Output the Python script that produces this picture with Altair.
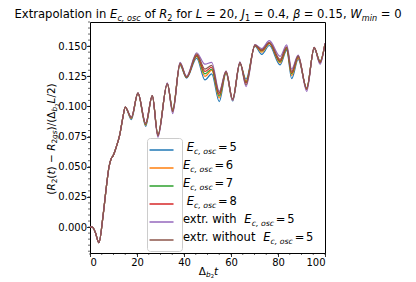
import altair as alt
import pandas as pd

# ---------------- data ----------------
t_vals = [0, 1.0, 2.2, 3.8, 5.5, 7.0, 8.1, 9.1, 9.8, 11.2, 12.6, 14.0, 15.0,
          17.6, 20.4, 23.7, 26.5, 28.9, 32.9, 35.2, 38.3, 41.1, 45.4, 48.9,
          51.8, 55.0, 57.9, 60.7, 63.8, 66.4, 70.2, 73.1, 76.3, 80.9, 83.7,
          85.8, 88.6, 92.2, 95.4, 97.9, 100.0]

early = [0.0, 0.0, -0.004, -0.013, 0.0085, 0.034, 0.050, 0.057, 0.059,
         0.0665, 0.076, 0.091, 0.0995]

e5 = early + [0.0890, 0.1110, 0.0835, 0.1090, 0.0765, 0.1190, 0.0975, 0.1340,
              0.1235, 0.1400, 0.1220, 0.1270, 0.1040, 0.1275, 0.1045, 0.1355,
              0.1225, 0.1500, 0.1432, 0.1505, 0.1345, 0.1465, 0.1230, 0.1390,
              0.1155, 0.1480, 0.1378, 0.1515]
e6 = early + [0.0898, 0.1110, 0.0845, 0.1090, 0.0763, 0.1190, 0.0970, 0.1348,
              0.1240, 0.1415, 0.1250, 0.1300, 0.1070, 0.1280, 0.1050, 0.1360,
              0.1210, 0.1505, 0.1450, 0.1520, 0.1360, 0.1475, 0.1255, 0.1400,
              0.1150, 0.1485, 0.1372, 0.1520]
e7 = early + [0.0903, 0.1110, 0.0850, 0.1090, 0.0760, 0.1190, 0.0965, 0.1352,
              0.1240, 0.1420, 0.1270, 0.1310, 0.1085, 0.1285, 0.1055, 0.1360,
              0.1200, 0.1505, 0.1460, 0.1522, 0.1370, 0.1480, 0.1270, 0.1410,
              0.1148, 0.1485, 0.1368, 0.1520]
e8 = early + [0.0906, 0.1110, 0.0855, 0.1090, 0.0758, 0.1190, 0.0960, 0.1355,
              0.1242, 0.1425, 0.1290, 0.1325, 0.1100, 0.1290, 0.1058, 0.1362,
              0.1195, 0.1507, 0.1465, 0.1527, 0.1380, 0.1490, 0.1280, 0.1415,
              0.1145, 0.1487, 0.1365, 0.1520]
ex_with = early + [0.0910, 0.1113, 0.0860, 0.1090, 0.0745, 0.1195, 0.0940, 0.1365,
                   0.1250, 0.1445, 0.1350, 0.1365, 0.1125, 0.1295, 0.1050, 0.1370,
                   0.1165, 0.1512, 0.1480, 0.1545, 0.1415, 0.1510, 0.1310, 0.1425,
                   0.1125, 0.1490, 0.1350, 0.1525]
ex_without = early + [0.0910, 0.1110, 0.0860, 0.1090, 0.0755, 0.1190, 0.0955, 0.1360,
                      0.1245, 0.1435, 0.1310, 0.1340, 0.1115, 0.1290, 0.1060, 0.1365,
                      0.1180, 0.1510, 0.1470, 0.1532, 0.1390, 0.1495, 0.1290, 0.1420,
                      0.1140, 0.1490, 0.1360, 0.1522]

series_names = ["E5", "E6", "E7", "E8", "extr. with", "extr. without"]
series_vals = [e5, e6, e7, e8, ex_with, ex_without]
series_colors = ["#1f77b4", "#ff7f0e", "#2ca02c", "#d62728", "#9467bd", "#8c564b"]

y_ticks = [0.0, 0.025, 0.05, 0.075, 0.1, 0.125, 0.15]
x_ticks = [0, 20, 40, 60, 80, 100]
y_minor = [round(-0.020 + 0.005 * i, 3) for i in range(39)]
x_minor = [5 * i for i in range(21)]

rows = []
for name, vals in zip(series_names, series_vals):
    for t, v in zip(t_vals, vals):
        rows.append({"t": t, "v": v, "series": name})
df = pd.DataFrame(rows)

# ---------------- layout ----------------
W_PLOT, H_PLOT = 235, 231
FONT = "DejaVu Sans"
xs = alt.Scale(domain=[0, 100], nice=False, zero=False)
ys = alt.Scale(domain=[-0.0215, 0.170], nice=False, zero=False)
x_axis = alt.Axis(values=x_ticks, format="d", title=None, grid=False, domain=False,
                  tickSize=3.5, tickWidth=0.8, tickColor="black", labelPadding=1,
                  labelFont=FONT, labelFontSize=10, labelColor="black")
y_axis = alt.Axis(values=y_ticks, format=".3f", title=None, grid=False, domain=False,
                  tickSize=3.5, tickWidth=0.8, tickColor="black", labelPadding=0,
                  labelFont=FONT, labelFontSize=10, labelColor="black")

blank = "'" + " " * 37 + "'"
lines = alt.Chart(df).mark_line(interpolate="monotone", strokeWidth=1.2, clip=True).encode(
    x=alt.X("t:Q", scale=xs, axis=x_axis),
    y=alt.Y("v:Q", scale=ys, axis=y_axis),
    color=alt.Color("series:N", sort=series_names,
                    scale=alt.Scale(domain=series_names, range=series_colors),
                    legend=alt.Legend(title=None, orient="none", legendX=57, legendY=116,
                                      symbolType="M-1.58,0H2.42", symbolSize=144,
                                      symbolStrokeWidth=1.5, labelExpr=blank,
                                      labelFontSize=12, labelLimit=300,
                                      rowPadding=5, padding=5, labelOffset=10,
                                      strokeColor="#cccccc", cornerRadius=3)),
    order=alt.Order("series_idx:Q"),
).transform_calculate(series_idx="indexof(%s, datum.series)" % str(series_names))

ymin = alt.Chart(pd.DataFrame({"v": y_minor})).mark_rule(color="black", strokeWidth=0.6).encode(
    y=alt.Y("v:Q", scale=ys, axis=y_axis), x=alt.value(0), x2=alt.value(-2))
xmin = alt.Chart(pd.DataFrame({"t": x_minor})).mark_rule(color="black", strokeWidth=0.6).encode(
    x=alt.X("t:Q", scale=xs, axis=x_axis), y=alt.value(H_PLOT), y2=alt.value(H_PLOT + 2))

# ---------------- rich text (math-like labels) ----------------
CW = {' ': 0.318, '(': 0.390, ')': 0.390, ',': 0.318, '.': 0.318, '/': 0.337, '=': 0.838,
      '−': 0.838, 'E': 0.632, 'J': 0.295, 'L': 0.557, 'R': 0.695, 'W': 0.989, 'Δ': 0.685,
      'β': 0.602, 'a': 0.613, 'b': 0.635, 'c': 0.550, 'e': 0.615, 'f': 0.352, 'g': 0.635,
      'h': 0.634, 'i': 0.278, 'l': 0.278, 'm': 0.974, 'n': 0.634, 'o': 0.612, 'p': 0.635,
      'r': 0.411, 's': 0.521, 't': 0.392, 'u': 0.634, 'w': 0.818, 'x': 0.592}
for d in "0123456789":
    CW[d] = 0.636
STY = {'n': (1.0, 0.0, 'normal'), 'i': (1.0, 0.0, 'italic'),
       's': (0.7, 0.22, 'normal'), 'si': (0.7, 0.22, 'italic'),
       'sl': (0.68, 0.22, 'italic'), 'ss': (0.5, 0.34, 'normal')}
ONE = alt.Data(values=[{"k": 0}])


def tw(s):
    return sum(CW.get(c, 0.6) for c in s)


def piece_w(t, s, size):
    if s == 'gap':
        return t * size
    return tw(t) * size * STY[s][0]


def rich(pieces, x, y, size, anchor="start", angle=0):
    total = sum(piece_w(t, s, size) for t, s in pieces)
    pos = -total / 2 if anchor == "middle" else 0.0
    out = []
    for t, s in pieces:
        if s == 'gap':
            pos += t * size
            continue
        f, drop, style = STY[s]
        fs = size * f
        lead = len(t) - len(t.lstrip(' '))
        core = t.strip(' ')
        off = pos + lead * CW[' '] * fs
        if core:
            if angle == 0:
                px, py = x + off, y + drop * size
            else:
                px, py = x + drop * size, y - off
            out.append(alt.Chart(ONE).mark_text(
                text=core, font=FONT, fontSize=fs, fontStyle=style, align="left",
                baseline="alphabetic", angle=angle, color="black").encode(
                x=alt.value(px), y=alt.value(py)))
        pos += tw(t) * fs
    return out


texts = []
texts += rich([("Extrapolation in ", 'n'), ("E", 'i'), ("c, osc", 'si'), (" of ", 'n'),
               ("R", 'i'), ("2", 's'), (" for ", 'n'), ("L", 'i'), (" = 20, ", 'n'),
               ("J", 'i'), ("1", 's'), (" = 0.4, ", 'n'), ("β", 'i'), (" = 0.15, ", 'n'),
               ("W", 'i'), ("min", 'si'), (" = 0", 'n')], 118, -4, 11.6, anchor="middle")
texts += rich([("(", 'n'), ("R", 'i'), ("2", 's'), ("(", 'n'), ("t", 'i'), (")", 'n'),
               (" − ", 'n'), ("R", 'i'), ("2", 's'), ("gs", 'si'), (")/(", 'n'), ("Δ", 'n'),
               ("b", 'si'), ("2", 'ss'), ("L", 'i'), ("/2)", 'n')],
              -35, 117, 10.5, anchor="middle", angle=270)
texts += rich([("Δ", 'n'), ("b", 'si'), ("2", 'ss'), ("t", 'i')], 118.5, 252.5, 10.5, anchor="middle")


def ec(val):
    return [("E", 'i'), ("c, osc", 'sl'), (0.15, 'gap'), ("=", 'n'), (0.15, 'gap'), (val, 'n')]


leg_labels = [
    [(0.318, 'gap')] + ec("5"),
    ec("6"),
    ec("7"),
    [(0.318, 'gap')] + ec("8"),
    [("extr. with ", 'n'), (0.25, 'gap')] + ec("5"),
    [("extr. without ", 'n'), (0.25, 'gap')] + ec("5"),
]
for i, lab in enumerate(leg_labels):
    texts += rich(lab, 93, 125 + 18 * i + 4, 11.5)

chart = alt.layer(lines, ymin, xmin, *texts).properties(
    width=W_PLOT, height=H_PLOT,
    autosize=alt.AutoSizeParams(type="none"),
    padding={"left": 82, "top": 14, "right": 83, "bottom": 29},
).configure_view(stroke="black", strokeWidth=1)

chart.save("out.html", embed_options={"renderer": "svg", "actions": False})
